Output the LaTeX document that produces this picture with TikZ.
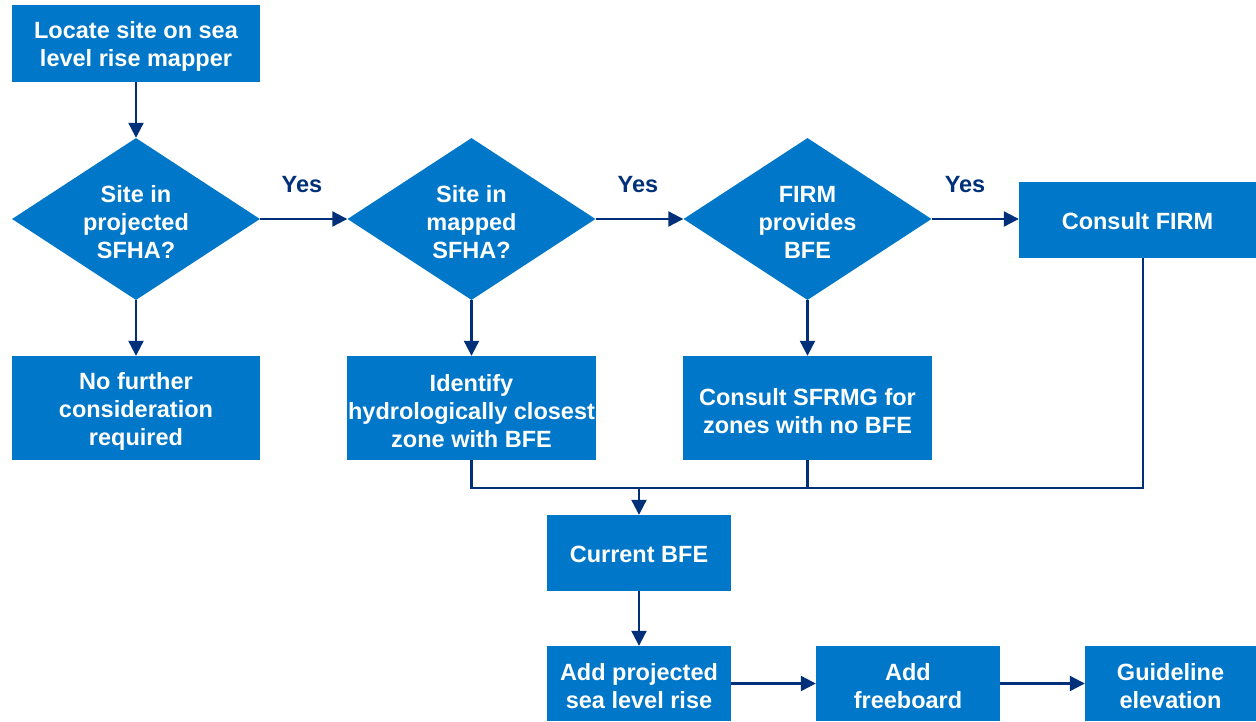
\documentclass[tikz,border=0pt]{standalone}
\usepackage{fontspec}
\setmainfont{Liberation Sans}
\usetikzlibrary{shapes.geometric,arrows.meta}
\definecolor{boxblue}{RGB}{0,119,200}
\definecolor{navy}{RGB}{0,48,122}
\begin{document}
\begin{tikzpicture}[x=1pt,y=-1pt,
  every node/.style={font=\fontsize{23.5}{28}\selectfont\bfseries},
  procbox/.style={fill=boxblue,draw=none,inner sep=0pt},
  decision/.style={diamond,fill=boxblue,draw=none,inner sep=0pt,
     minimum width=248pt,minimum height=162pt,aspect=1.53},
  boxtext/.style={text=white,align=center,inner sep=0pt,yshift=-3pt},
  boxtextone/.style={text=white,align=center,inner sep=0pt,yshift=-1.5pt},
  conn/.style={draw=navy,line width=2.2pt},
  arr/.style={conn,-{Triangle[length=15pt,width=15pt]}},
  lbl/.style={text=navy,yshift=-1pt}]
\useasboundingbox (0,0) rectangle (1256,721);
\node[procbox,minimum width=248pt,minimum height=77pt] (locate) at (136,43.5) {};
\node[decision] (d1) at (136,219) {};
\node[decision] (d2) at (471.5,219) {};
\node[decision] (d3) at (807.5,219) {};
\node[procbox,minimum width=237pt,minimum height=76pt] (firm) at (1137.5,220) {};
\node[procbox,minimum width=248pt,minimum height=104pt] (nofurther) at (136,408) {};
\node[procbox,minimum width=249pt,minimum height=104pt] (identify) at (471.5,408) {};
\node[procbox,minimum width=249pt,minimum height=104pt] (sfrmg) at (807.5,408) {};
\node[procbox,minimum width=184pt,minimum height=76pt] (current) at (639,553) {};
\node[procbox,minimum width=184pt,minimum height=75pt] (addslr) at (639,683.5) {};
\node[procbox,minimum width=184pt,minimum height=75pt] (freeboard) at (908,683.5) {};
\node[procbox,minimum width=171pt,minimum height=75pt] (guide) at (1170.5,683.5) {};
\node[boxtext] (locate-t) at (locate) {Locate site on sea\\level rise mapper};
\node[boxtext] (d1-t) at (d1) {Site in\\projected\\SFHA?};
\node[boxtext] (d2-t) at (d2) {Site in\\mapped\\SFHA?};
\node[boxtext] (d3-t) at (d3) {FIRM\\provides\\BFE};
\node[boxtextone] (firm-t) at (firm) {Consult FIRM};
\node[boxtext] (nofurther-t) at (nofurther) {No further\\consideration\\required};
\node[boxtext] (identify-t) at (identify) {Identify\\hydrologically closest\\zone with BFE};
\node[boxtext] (sfrmg-t) at (sfrmg) {Consult SFRMG for\\zones with no BFE};
\node[boxtextone] (current-t) at (current) {Current BFE};
\node[boxtext] (addslr-t) at (addslr) {Add projected\\sea level rise};
\node[boxtext] (freeboard-t) at (freeboard) {Add\\freeboard};
\node[boxtext] (guide-t) at (guide) {Guideline\\elevation};
\coordinate (join) at (639,488);
\coordinate (jl) at (identify.south |- join);
\coordinate (jm) at (sfrmg.south |- join);
\coordinate (jrb) at (1143,488);
\coordinate (jrt) at (1143,258);
\node[lbl] (yes1) at (302,184) {Yes};
\node[lbl] (yes2) at (638,184) {Yes};
\node[lbl] (yes3) at (965,184) {Yes};
\draw[arr] (locate.south) -- (d1.north);
\draw[arr] (d1.south) -- (nofurther.north);
\draw[arr] (d1.east) -- (d2.west);
\draw[arr] (d2.east) -- (d3.west);
\draw[arr] (d3.east) -- (d3.east -| firm.west);
\draw[arr] (d2.south) -- (identify.north);
\draw[arr] (d3.south) -- (sfrmg.north);
\draw[conn] (identify.south) -- (jl) -- (jrb) -- (jrt);
\draw[conn] (sfrmg.south) -- (jm);
\draw[arr] (join) -- (current.north);
\draw[arr] (current.south) -- (addslr.north);
\draw[arr] (addslr.east) -- (freeboard.west);
\draw[arr] (freeboard.east) -- (guide.west);
\end{tikzpicture}
\end{document}
